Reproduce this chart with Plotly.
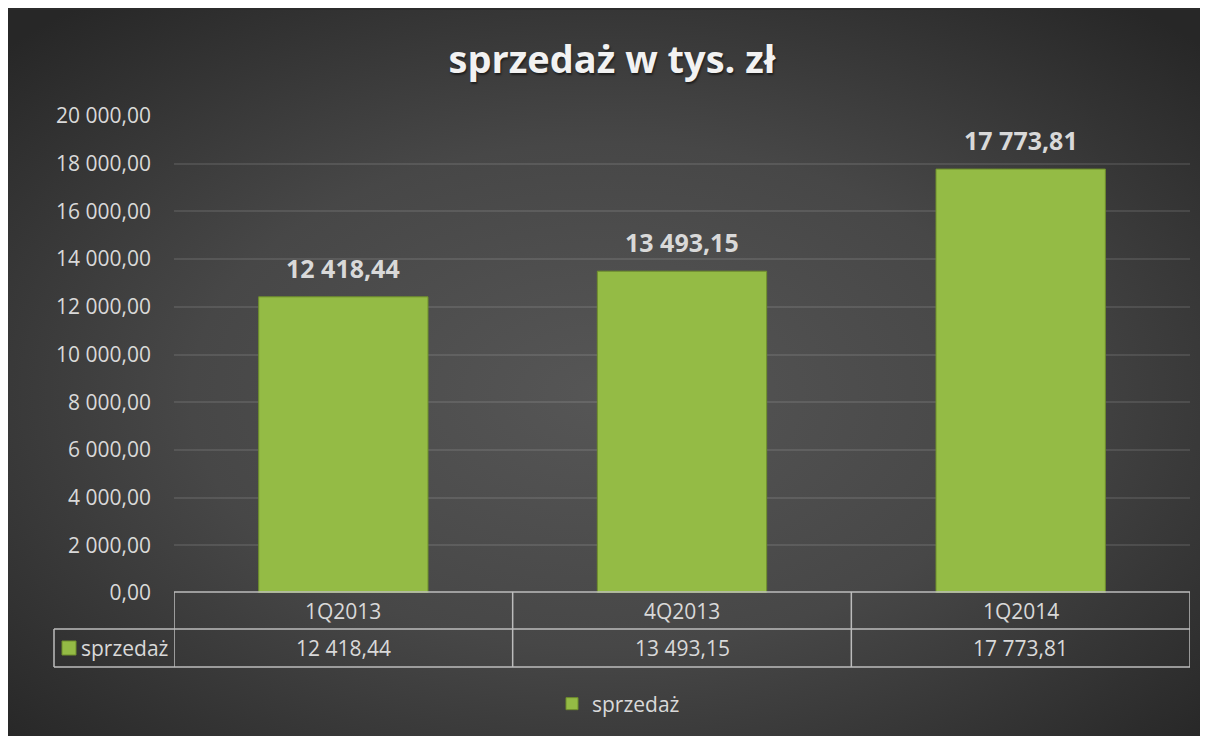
import base64
import plotly.graph_objects as go

# ---- data ----
categories = ["1Q2013", "4Q2013", "1Q2014"]
sales = [12418.44, 13493.15, 17773.81]
series_name = "sprzedaż"
title_text = "sprzedaż w tys. zł"
y_tickvals = [0, 2000, 4000, 6000, 8000, 10000, 12000, 14000, 16000, 18000, 20000]


def fmt(v):
    return f"{v:,.2f}".replace(",", " ").replace(".", ",")


y_ticktext = [fmt(v) for v in y_tickvals]
sales_text = [fmt(v) for v in sales]

# ---- layout geometry (figure pixels; page = figure + 8 body margin) ----
OFF = 8
W, H = 1208, 736
L = 174 - OFF
T = 116 - OFF
PW = 1016
PH = 477
R = W - L - PW
B = H - T - PH


def px(p):  # page pixel -> paper x
    return (p - OFF - L) / PW


def py(p):  # page pixel -> paper y
    return (T + PH - (p - OFF)) / PH


FONT = "Open Sans"
TXT = "#d9d9d9"
LINE = "#bcbcbc"
GREEN = "#94bb45"

BGW, BGH = 1220, 740
svg = f"""<svg xmlns='http://www.w3.org/2000/svg' width='{BGW}' height='{BGH}' viewBox='0 0 {BGW} {BGH}' preserveAspectRatio='none'>
<defs><radialGradient id='g' cx='49%' cy='52%' r='68%'>
<stop offset='0' stop-color='#565656'/><stop offset='0.5' stop-color='#474747'/><stop offset='1' stop-color='#272727'/>
</radialGradient></defs><rect width='{BGW}' height='{BGH}' fill='url(#g)'/></svg>"""
bg_src = "data:image/svg+xml;base64," + base64.b64encode(svg.encode()).decode()

fig = go.Figure()
fig.add_trace(go.Bar(
    x=categories, y=sales, name=series_name,
    marker=dict(color=GREEN, line=dict(color="#6f8f2c", width=1)),
    showlegend=True, hoverinfo="x+y",
))

shapes = []
x_left_edge = -0.5
x_right_edge = len(categories) - 0.5
shapes.append(dict(type="line", xref="x", yref="paper", x0=x_left_edge, x1=x_right_edge,
                   y0=py(592), y1=py(592), line=dict(color=LINE, width=1.5)))
for yy in (629, 667):
    shapes.append(dict(type="line", xref="paper", yref="paper", x0=px(54), x1=1.0,
                       y0=py(yy), y1=py(yy), line=dict(color=LINE, width=1.5)))
shapes.append(dict(type="line", xref="paper", yref="paper", x0=px(54), x1=px(54),
                   y0=py(629), y1=py(667), line=dict(color=LINE, width=1.5)))
for i in range(len(categories) + 1):
    shapes.append(dict(type="line", xref="x", yref="paper", x0=i - 0.5, x1=i - 0.5,
                       y0=py(592), y1=py(667), line=dict(color=LINE, width=1.5)))
shapes.append(dict(type="rect", xref="paper", yref="paper", x0=px(62), x1=px(76),
                   y0=py(641), y1=py(655), fillcolor=GREEN, line=dict(color="#6f8f2c", width=1)))

annotations = []
for c, v, t in zip(categories, sales, sales_text):
    annotations.append(dict(x=c, xref="x", y=v, yref="y", text=t, showarrow=False,
                            yanchor="bottom", yshift=10,
                            font=dict(family=FONT, size=25, color=TXT, weight="bold")))
    annotations.append(dict(x=c, xref="x", y=py(611), yref="paper", text=c, showarrow=False,
                            yanchor="middle", font=dict(family=FONT, size=21, color=TXT)))
    annotations.append(dict(x=c, xref="x", y=py(648), yref="paper", text=t, showarrow=False,
                            yanchor="middle", font=dict(family=FONT, size=21, color=TXT)))
annotations.append(dict(x=px(79), xref="paper", y=py(648), yref="paper", text=series_name,
                        xanchor="left", yanchor="middle", showarrow=False,
                        font=dict(family=FONT, size=21, color=TXT)))

fig.update_layout(
    width=W, height=H,
    margin=dict(l=L, r=R, t=T, b=B),
    paper_bgcolor="#2c2c2c", plot_bgcolor="rgba(0,0,0,0)",
    images=[dict(source=bg_src, xref="paper", yref="paper", x=px(8), y=py(10),
                 sizex=BGW / PW, sizey=BGH / PH, xanchor="left", yanchor="top",
                 sizing="stretch", layer="below")],
    title=dict(text=title_text, xref="paper", x=px(612), xanchor="center",
               yref="container", y=1 - (60 - OFF) / H, yanchor="middle",
               font=dict(family=FONT, size=38, color="#f2f2f2", weight="bold",
                         shadow="1px 2px 2px rgba(0,0,0,0.5)")),
    bargap=0.5,
    xaxis=dict(type="category", range=[-0.5, len(categories) - 0.5], showticklabels=False,
               showgrid=False, zeroline=False, showline=False, ticks=""),
    yaxis=dict(range=[0, 20000], tickvals=y_tickvals, ticktext=y_ticktext,
               tickfont=dict(family=FONT, size=21, color=TXT), ticklabelstandoff=22,
               showgrid=True, gridcolor="rgba(255,255,255,0.1)", gridwidth=1.5,
               zeroline=False, showline=False, ticks=""),
    legend=dict(orientation="h", x=px(552), xanchor="left", y=py(704), yanchor="middle",
                itemwidth=30,
                font=dict(family=FONT, size=21, color=TXT), bgcolor="rgba(0,0,0,0)"),
    shapes=shapes, annotations=annotations,
)

fig.write_html("out.html",
               post_script="document.documentElement.style.overflow='hidden';"
                           "document.body.style.overflow='hidden';")
